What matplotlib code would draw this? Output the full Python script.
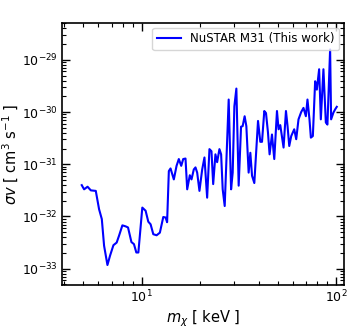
import numpy as np
import matplotlib
matplotlib.use('Agg')
import matplotlib.pyplot as plt

# dark matter mass [keV]
mass = [4.92, 5.06, 5.27, 5.48, 5.81, 6.04, 6.24, 6.41, 6.67, 6.88,
        7.16, 7.44, 7.65, 7.96, 8.28, 8.51, 8.86, 9.13, 9.39, 9.62,
        10.08, 10.48, 10.82, 11.12, 11.48, 11.94, 12.41, 12.92, 13.28, 13.52,
        13.80, 14.08, 14.64, 15.12, 15.53, 15.98, 16.36, 16.81, 17.15, 17.69,
        18.05, 18.54, 18.92, 19.30, 19.83, 20.48, 21.04, 21.72, 22.32, 22.86,
        23.33, 23.96, 24.45, 25.12, 25.63, 26.11, 26.74, 28.03, 28.84, 29.39,
        29.98, 30.70, 31.55, 32.45, 33.07, 33.86, 34.55, 35.50, 36.22, 36.96,
        37.97, 39.67, 40.76, 41.59, 42.73, 43.60, 44.63, 45.49, 46.80, 48.09,
        49.65, 50.60, 51.63, 52.24, 53.68, 55.23, 56.28, 57.42, 58.78, 60.90,
        62.36, 64.07, 66.14, 67.96, 69.91, 71.25, 72.96, 74.18, 75.94, 78.03,
        79.61, 81.80, 83.46, 86.07, 88.55, 90.24, 93.16, 94.27, 96.87, 98.83,
        100.8]

# log10 of the <sigma v> limit [cm^3 s^-1]
log_sv = [-31.40, -31.48, -31.43, -31.50, -31.51, -31.86, -32.05, -32.56, -32.93, -32.75,
          -32.55, -32.50, -32.37, -32.17, -32.19, -32.21, -32.49, -32.53, -32.69, -32.69,
          -31.83, -31.89, -32.10, -32.15, -32.34, -32.36, -32.31, -32.01, -32.02, -32.11,
          -31.13, -31.08, -31.29, -31.03, -30.90, -31.03, -30.90, -30.89, -31.48, -31.21,
          -31.29, -31.10, -31.06, -31.16, -31.51, -31.10, -30.87, -31.64, -30.71, -30.75,
          -31.38, -30.81, -30.96, -30.71, -30.81, -31.48, -31.80, -29.76, -31.48, -31.16,
          -29.89, -29.55, -31.41, -30.28, -30.27, -30.08, -30.27, -31.16, -30.78, -31.22,
          -31.36, -30.17, -30.57, -30.57, -29.98, -30.02, -30.39, -30.81, -30.43, -30.90,
          -29.98, -30.33, -30.25, -30.38, -30.68, -29.98, -30.27, -30.65, -30.46, -30.33,
          -30.52, -30.14, -30.00, -29.92, -30.08, -29.76, -30.14, -30.49, -30.46, -29.41,
          -29.57, -29.18, -30.14, -29.18, -30.20, -30.24, -28.80, -30.14, -30.01, -29.95,
          -29.90]

xticks = [10, 100]
yticks = [1e-33, 1e-32, 1e-31, 1e-30, 1e-29]

sv = 10.0 ** np.array(log_sv)

fig = plt.figure(figsize=(3.57, 3.32), dpi=100)
ax = fig.add_axes([0.174, 0.142, 0.790, 0.789])

ax.plot(mass, sv, color='blue', lw=1.5, label='NuSTAR M31 (This work)')

ax.set_xscale('log')
ax.set_yscale('log')
ax.set_xticks(xticks)
ax.set_yticks(yticks)
ax.set_xlim(3.9, 110)
ax.set_ylim(4.9e-34, 5.1e-29)

ax.tick_params(which='both', direction='in', top=True, right=True, labelsize=9, pad=3)
ax.tick_params(which='major', length=6, width=1)
ax.tick_params(which='minor', length=3, width=0.8)
for s in ax.spines.values():
    s.set_linewidth(1.2)

ax.set_xlabel(r'$m_\chi$ [ keV ]', fontsize=10.5, labelpad=2)
ax.set_ylabel(r'$\sigma v$ [ cm$^3$ s$^{-1}$ ]', fontsize=10.5, labelpad=1)
ax.legend(loc='upper right', fontsize=8.5, handlelength=2.0, borderaxespad=0.4)

fig.savefig('out.png', dpi=100)
